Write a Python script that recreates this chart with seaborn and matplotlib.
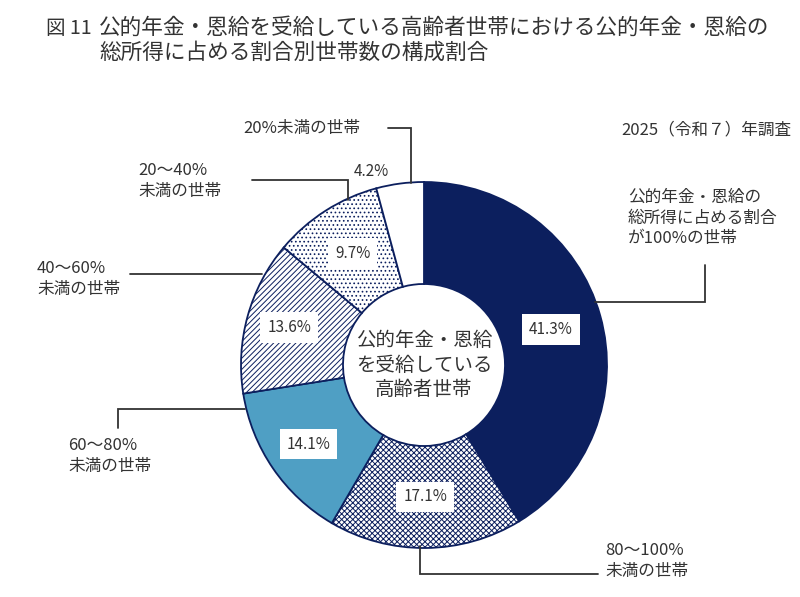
import numpy as np
import matplotlib
matplotlib.use('Agg')
import matplotlib.pyplot as plt
import seaborn as sns

sns.set_theme(style='white')
plt.rcParams['font.family'] = ['Noto Sans CJK JP', 'DejaVu Sans']
plt.rcParams['hatch.linewidth'] = 0.7

# data
categories = ['公的年金・恩給の\n総所得に占める割合\nが100%の世帯',
              '80～100%\n未満の世帯',
              '60～80%\n未満の世帯',
              '40～60%\n未満の世帯',
              '20～40%\n未満の世帯',
              '20%未満の世帯']
shares = [41.3, 17.1, 14.1, 13.6, 9.7, 4.2]

NAVY = '#0c1f5e'
TXT = '#333333'
H = 597


def Y(y):
    # image pixel row -> axes y
    return H - y


fills = [NAVY, 'white', '#4f9fc4', 'white', 'white', 'white']
hatches = ['', 'xxxxxx', '', '//////', '....', '']

fig = plt.figure(figsize=(8, 5.97), dpi=100)
ax = fig.add_axes([0, 0, 1, 1])

cx, cy, R, W = 424, Y(365), 183, 102
wedges, _ = ax.pie(shares, colors=fills, hatch=hatches, startangle=90,
                   counterclock=False, radius=R, center=(cx, cy),
                   wedgeprops=dict(width=W, edgecolor=NAVY, linewidth=1.3))

ax.set_xlim(0, 800)
ax.set_ylim(0, H)
ax.set_aspect('equal')
ax.axis('off')

# percentage labels
for i, (w, v) in enumerate(zip(wedges, shares)):
    mid = np.deg2rad((w.theta1 + w.theta2) / 2)
    lab = '{:.1f}%'.format(v)
    if i == len(shares) - 1:
        r = R + 17
        ax.text(cx + r * np.cos(mid) - 26, cy + r * np.sin(mid) - 5, lab,
                ha='center', va='center', fontsize=11, color=TXT)
    else:
        r = R - W / 2 + (8 if i in (2, 3) else 0)
        ax.text(cx + r * np.cos(mid), cy + r * np.sin(mid), lab,
                ha='center', va='center', fontsize=11, color=TXT,
                bbox=dict(boxstyle='square,pad=0.45', fc='white', ec='none'))

# center text
ax.text(cx, cy, '公的年金・恩給\nを受給している\n高齢者世帯', ha='center', va='center',
        fontsize=14, color=TXT, linespacing=1.2)

# category labels
lab_pos = [(628, 218, 'left'), (605, 561, 'left'), (68, 456, 'left'),
           (37, 279, 'left'), (138, 181, 'left'), (243, 128, 'left')]
for name, (x, y, ha) in zip(categories, lab_pos):
    ax.text(x, Y(y), name, ha=ha, va='center', fontsize=12, color=TXT,
            linespacing=1.3)

# leader lines
leaders = [[(705, 265), (705, 302), (595, 302)],
           [(420, 546), (420, 574), (598, 574)],
           [(118, 428), (118, 409), (245, 409)],
           [(130, 274), (262, 274)],
           [(252, 180), (348, 180), (348, 200)],
           [(388, 128), (411, 128), (411, 183)]]
for pts in leaders:
    xs = [p[0] for p in pts]
    ys = [Y(p[1]) for p in pts]
    ax.plot(xs, ys, color=TXT, lw=1.3, solid_joinstyle='miter')

ax.text(791, Y(130), '2025（令和７）年調査', ha='right', va='center',
        fontsize=12, color=TXT)

# title
ax.text(46, Y(28), '図 11', ha='left', va='center', fontsize=14, color=TXT)
ax.text(99, Y(28), '公的年金・恩給を受給している高齢者世帯における公的年金・恩給の',
        ha='left', va='center', fontsize=15.6, color=TXT)
ax.text(99, Y(53), '総所得に占める割合別世帯数の構成割合',
        ha='left', va='center', fontsize=15.6, color=TXT)

fig.savefig('out.png', dpi=100)
